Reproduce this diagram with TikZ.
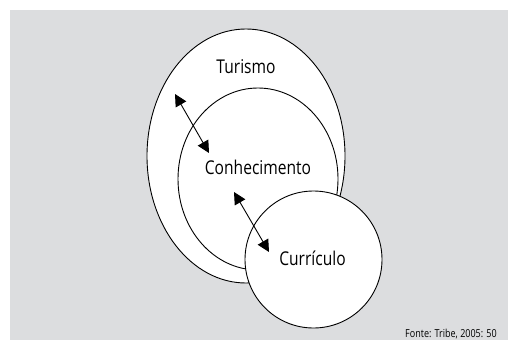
\documentclass[tikz,border=0pt]{standalone}
\usepackage{fontspec}
\setmainfont{Open Sans}
\usetikzlibrary{arrows.meta}
\definecolor{bg}{HTML}{DCDDDF}
\tikzset{
  lbl/.style={font=\fontsize{19}{22}\selectfont, inner sep=0pt},
  src/.style={font=\fontsize{11}{13}\selectfont, inner sep=0pt, anchor=west},
  ringshape/.style={draw=black, line width=0.9pt, fill=white},
  dbl/.style={line width=0.9pt, {Triangle[length=12pt,width=12pt]}-{Triangle[length=12pt,width=12pt]}}
}
\newcommand{\cond}[1]{\scalebox{0.82}[1]{#1}}
\begin{document}
\begin{tikzpicture}[x=1pt,y=-1pt]
\useasboundingbox (0,0) rectangle (508,340);
\fill[bg] (10,10) rectangle (508,340);
\draw[ringshape] (246,156) ellipse [x radius=99, y radius=127];
\draw[ringshape] (258,179) ellipse [x radius=80, y radius=91];
\draw[ringshape] (313.5,259.5) circle [radius=68.5];
\node[lbl] (tur) at (246,67) {\cond{Turismo}};
\node[lbl] (con) at (258,167) {\cond{Conhecimento}};
\node[lbl] (cur) at (312.5,258) {\cond{Currículo}};
\coordinate (a1) at (175,94);
\coordinate (b1) at (209,153);
\coordinate (a2) at (234,192);
\coordinate (b2) at (269,252);
\draw[dbl] (a1) -- (b1);
\draw[dbl] (a2) -- (b2);
\node[src] (fonte) at (405,334) {\cond{Fonte: Tribe, 2005: 50}};
\end{tikzpicture}
\end{document}
